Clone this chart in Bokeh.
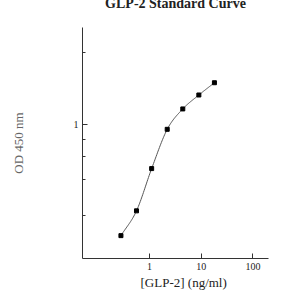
import numpy as np
from bokeh.plotting import figure
from bokeh.models import FixedTicker, Range1d, Title
from bokeh.embed import file_html
from bokeh.resources import INLINE

# Data
conc = [0.28, 0.56, 1.1, 2.2, 4.4, 9.0, 18.0]          # [GLP-2] ng/ml
od = [0.461, 0.548, 0.736, 0.968, 1.116, 1.23, 1.34]   # OD 450 nm
x_ticks = [1, 10, 100]
y_ticks = [1]
y_minor = [0.53, 0.68, 0.8, 0.9, 1.65]

title_text = "GLP-2 Standard Curve"
x_label = "[GLP-2] (ng/ml)"
y_label = "OD 450 nm"

SERIF = "Liberation Serif"
SHIFT = 24  # the reference crop cuts the title at the top

p = figure(width=300, height=300 + SHIFT, x_axis_type="log", y_axis_type="log",
           x_range=Range1d(0.0506, 200), y_range=Range1d(0.393, 1.97),
           output_backend="svg", toolbar_location=None,
           min_border_left=82, min_border_right=32,
           min_border_top=27 + SHIFT, min_border_bottom=42,
           styles={"margin-top": f"-{SHIFT}px"})
p.outline_line_color = None
p.grid.visible = False
p.background_fill_color = "white"
p.border_fill_color = "white"

# smooth curve (Catmull-Rom in log-log space) through the measured points
P = np.column_stack([np.log10(conc), np.log10(od)])
ext = np.vstack([2 * P[0] - P[1], P, 2 * P[-1] - P[-2]])
segs = []
t = np.linspace(0, 1, 24, endpoint=False)[:, None]
for i in range(1, len(ext) - 2):
    p0, p1, p2, p3 = ext[i - 1], ext[i], ext[i + 1], ext[i + 2]
    seg = 0.5 * ((2 * p1) + (-p0 + p2) * t + (2 * p0 - 5 * p1 + 4 * p2 - p3) * t ** 2
                 + (-p0 + 3 * p1 - 3 * p2 + p3) * t ** 3)
    segs.append(seg)
segs.append(P[-1:])
curve = np.vstack(segs)
p.line(10 ** curve[:, 0], 10 ** curve[:, 1], line_color="#555555", line_width=1)
p.scatter(conc, od, marker="square", size=4, color="black")

for ax in (p.xaxis[0], p.yaxis[0]):
    ax.axis_line_color = "#333333"
    ax.major_tick_line_color = "#333333"
    ax.minor_tick_line_color = "#333333"
    ax.major_tick_in = 5
    ax.major_tick_out = 0
    ax.minor_tick_in = 3
    ax.minor_tick_out = 0
    ax.major_label_text_font = SERIF
    ax.major_label_text_font_size = "10px"
    ax.major_label_text_color = "#222222"
    ax.major_label_standoff = 4
    ax.axis_label_text_font = SERIF
    ax.axis_label_text_font_size = "13px"
    ax.axis_label_text_font_style = "normal"

p.xaxis[0].ticker = FixedTicker(ticks=x_ticks, minor_ticks=[])
p.yaxis[0].ticker = FixedTicker(ticks=y_ticks, minor_ticks=y_minor)
p.xaxis[0].major_label_overrides = {1: "1", 10: "10", 100: "100"}
p.yaxis[0].major_label_overrides = {1: "1"}

p.yaxis[0].axis_label = y_label
p.yaxis[0].axis_label_text_color = "#666666"
p.yaxis[0].axis_label_standoff = 45

p.add_layout(Title(text=x_label, align="left", offset=58, text_font=SERIF,
                   text_font_size="13px", text_font_style="normal",
                   text_color="#222222", standoff=0), "below")
p.add_layout(Title(text=title_text, align="center", text_font=SERIF,
                   text_font_size="14px", text_font_style="bold",
                   text_color="#222222", standoff=34), "above")

open("out.html", "w").write(file_html(p, INLINE))
